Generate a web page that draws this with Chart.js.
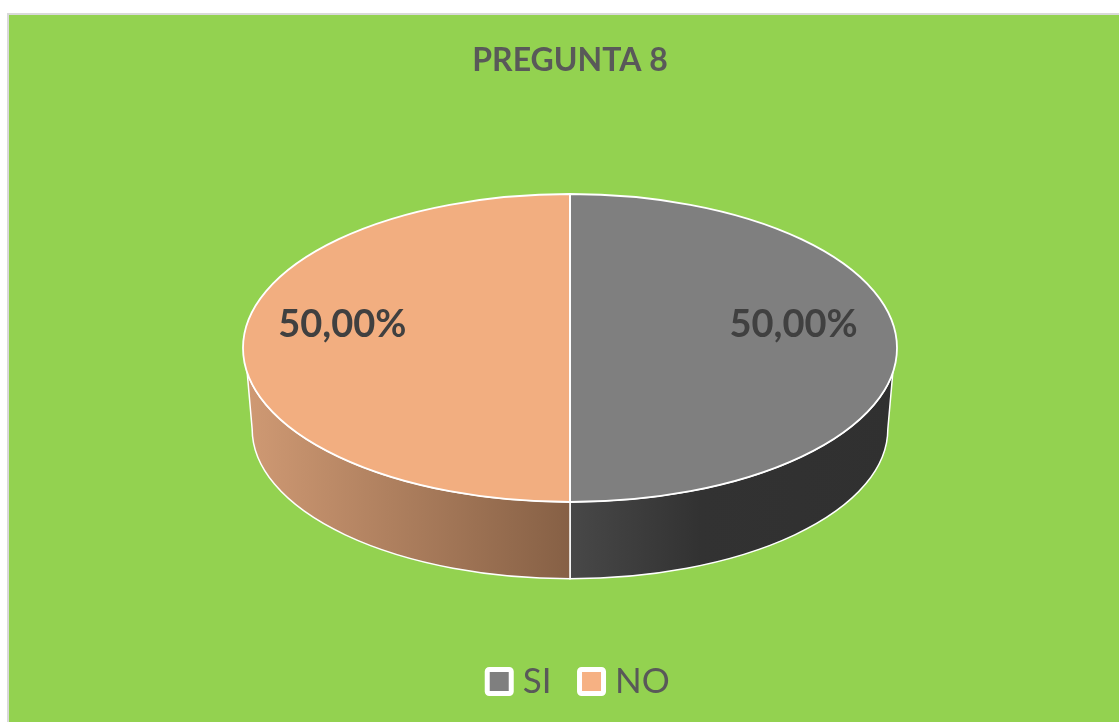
<!DOCTYPE html>
<html>
<head>
<meta charset="utf-8">
<script src="https://cdn.jsdelivr.net/npm/chart.js@4"></script>
<style>
  html, body { margin: 0; padding: 0; background: #fff; overflow: hidden; }
  #box {
    position: absolute; left: 7px; top: 13px; width: 1110px; height: 707px;
    border-left: 2px solid #d9d9d9; border-top: 2px solid #d9d9d9; background: #93d250;
  }
</style>
</head>
<body>
<div id="box"><canvas id="pie-chart"></canvas></div>
<script>
var categories = ['SI', 'NO'];
var values = [50, 50];
var valueLabels = ['50,00%', '50,00%'];
var sliceColors = ['#7f7f7f', '#f2ae80'];
var legendColors = ['#7f7f7f', '#f6b183'];

// look of the tilted disc, all in canvas pixels
var TILT = 0.471;
var CENTER_Y = 333;
var RADIUS = 327;
var DEPTH = 81;
var BOTTOM_SCALE = 0.972;
var SIDE_ANGLE = 0.16;
var SWATCH = 24;

function wallGradient(ctx, cx, index) {
  var g;
  if (index === 0) {
    g = ctx.createLinearGradient(cx, 0, cx + RADIUS, 0);
    g.addColorStop(0, '#484848');
    g.addColorStop(0.4, '#323232');
    g.addColorStop(1, '#303030');
  } else {
    g = ctx.createLinearGradient(cx - RADIUS, 0, cx, 0);
    g.addColorStop(0, '#d09a74');
    g.addColorStop(1, '#866045');
  }
  return g;
}

var tiltedPie = {
  id: 'tiltedPie',
  afterLayout: function (chart) {
    // the legend sits a little right of the pie axis
    chart.legend.left += 17;
  },
  beforeDatasetsDraw: function (chart) {
    var ctx = chart.ctx;
    var arcs = chart.getDatasetMeta(0).data;
    arcs.forEach(function (arc, i) {
      var s = Math.max(arc.startAngle, SIDE_ANGLE);
      var e = Math.min(arc.endAngle, Math.PI - SIDE_ANGLE);
      if (e <= s) return;
      var r2 = arc.outerRadius * BOTTOM_SCALE;
      ctx.save();
      ctx.beginPath();
      ctx.ellipse(arc.x, CENTER_Y, arc.outerRadius, arc.outerRadius * TILT, 0, s, e);
      ctx.ellipse(arc.x, CENTER_Y + DEPTH, r2, r2 * TILT, 0,
        e === Math.PI - SIDE_ANGLE ? Math.PI : e,
        s === SIDE_ANGLE ? 0 : s, true);
      ctx.closePath();
      ctx.fillStyle = wallGradient(ctx, arc.x, i);
      ctx.fill();
      ctx.strokeStyle = '#ffffff';
      ctx.lineWidth = 1.5;
      ctx.stroke();
      ctx.restore();
    });
    // squash the library's pie into the ellipse
    var first = arcs[0];
    ctx.save();
    ctx.translate(first.x, CENTER_Y);
    ctx.scale(1, TILT);
    ctx.translate(-first.x, -first.y);
  },
  afterDatasetsDraw: function (chart) {
    var ctx = chart.ctx;
    var arcs = chart.getDatasetMeta(0).data;
    ctx.restore();
    arcs.forEach(function (arc) {
      ctx.save();
      ctx.beginPath();
      ctx.moveTo(arc.x, CENTER_Y);
      ctx.ellipse(arc.x, CENTER_Y, arc.outerRadius, arc.outerRadius * TILT, 0, arc.startAngle, arc.endAngle);
      ctx.closePath();
      ctx.strokeStyle = '#ffffff';
      ctx.lineWidth = 1.8;
      ctx.stroke();
      ctx.restore();
    });
    // value labels sit on each slice's middle direction
    arcs.forEach(function (arc, i) {
      var mid = (arc.startAngle + arc.endAngle) / 2;
      ctx.save();
      ctx.font = 'bold 38px Lato';
      ctx.fillStyle = '#404040';
      ctx.textAlign = 'center';
      ctx.textBaseline = 'middle';
      ctx.fillText(valueLabels[i],
        arc.x - 2 + Math.cos(mid) * arc.outerRadius * 0.69,
        CENTER_Y - 23 + Math.sin(mid) * arc.outerRadius * TILT);
      ctx.restore();
    });
  },
  afterDraw: function (chart) {
    // the legend's own box leaves too wide a gap to the text, so its swatches go here
    var ctx = chart.ctx;
    chart.legend.legendHitBoxes.forEach(function (hit, i) {
      ctx.save();
      ctx.beginPath();
      ctx.roundRect(hit.left, hit.top + (hit.height - SWATCH) / 2, SWATCH, SWATCH, 2);
      ctx.fillStyle = legendColors[i];
      ctx.fill();
      ctx.strokeStyle = '#ffffff';
      ctx.lineWidth = 5;
      ctx.stroke();
      ctx.restore();
    });
  },
};

new Chart(document.getElementById('pie-chart').getContext('2d'), {
  type: 'pie',
  data: {
    labels: categories,
    datasets: [{
      data: values,
      backgroundColor: sliceColors,
      borderWidth: 0,
    }],
  },
  options: {
    responsive: true,
    maintainAspectRatio: false,
    animation: false,
    radius: RADIUS,
    layout: { padding: { left: 12, bottom: 13 } },
    plugins: {
      title: {
        display: true,
        text: 'PREGUNTA 8',
        color: '#595959',
        font: { family: 'Lato', size: 32, weight: 'bold' },
        padding: { top: 26, bottom: 10 },
      },
      legend: {
        position: 'bottom',
        labels: {
          boxWidth: 18,
          boxHeight: 24,
          padding: 28,
          color: '#595959',
          font: { family: 'Lato', size: 35 },
          generateLabels: function () {
            return categories.map(function (name, i) {
              return {
                text: name,
                fillStyle: 'rgba(0,0,0,0)',
                strokeStyle: 'rgba(0,0,0,0)',
                fontColor: '#595959',
                lineWidth: 0,
                index: i,
              };
            });
          },
        },
      },
      tooltip: { enabled: false },
    },
  },
  plugins: [tiltedPie],
});
</script>
</body>
</html>
